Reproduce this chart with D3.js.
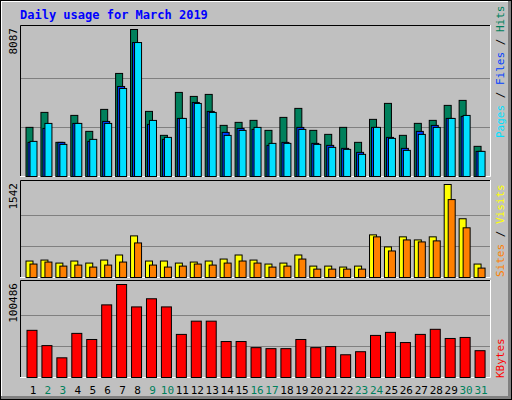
<!DOCTYPE html>
<html><head><meta charset="utf-8">
<script src="https://cdn.jsdelivr.net/npm/d3@7"></script>
<style>body{margin:0;background:#fff}svg{display:block}</style>
</head><body><svg id="c" width="512" height="400"></svg>
<script>
const days=d3.range(1,32);
const weekend=[2,3,9,10,16,17,23,24,30,31];
const hits=[2703,3527,1879,3362,2483,3692,5670,8087,3582,2264,4626,4406,4516,2813,2978,3088,2538,3252,3747,2538,2318,2703,1879,3143,4022,2264,2923,3088,3912,4187,1659];
const files=[1877,2646,1877,2920,1932,3030,4953,7370,2866,2042,3195,4074,3580,2426,2646,2591,1712,1877,2701,1822,1712,1547,1327,2701,2151,1547,2481,2811,3195,3305,1382];
const pages=[1932,2920,1767,2920,2042,2920,4843,7370,3085,2151,3195,4019,3525,2261,2536,2701,1822,1822,2591,1767,1602,1492,1218,2701,2097,1437,2316,2701,3195,3360,1382];
const sites=[273,289,239,273,239,289,373,690,273,273,239,256,273,306,373,289,223,239,373,189,189,173,189,707,507,674,623,674,1542,974,223];
const visits=[223,256,189,206,173,206,256,573,206,173,189,223,206,239,273,239,173,189,306,139,139,139,139,674,440,623,590,607,1292,824,156];
const kbytes=[50973,34470,21269,47671,41070,78474,100486,76274,85074,76274,46571,60872,60872,38870,38870,32270,31170,31170,41070,32270,33370,24569,27869,45471,48771,37770,46571,52071,42170,43271,28969];
const maxHits=8087, maxSites=1542, maxKB=100486;

const svg=d3.select("#c");
const F="'DejaVu Sans Mono', monospace";
svg.append("rect").attr("x",0).attr("y",0).attr("width",512).attr("height",400).attr("fill","#000");
svg.append("rect").attr("x",1).attr("y",1).attr("width",510).attr("height",398).attr("fill","#808080");
svg.append("rect").attr("x",1).attr("y",1).attr("width",507).attr("height",395).attr("fill","#fff");
svg.append("rect").attr("x",2).attr("y",2).attr("width",506).attr("height",394).attr("fill","#C0C0C0");

svg.append("text").attr("x",20).attr("y",19).attr("font-family",F).attr("font-weight","bold").attr("font-size",12).attr("fill","#0000FF").text("Daily usage for March 2019");

const x=d3.scaleBand().domain(days).range([25.5,488.5]).padding(0);
const L=20,R=491;
function panel(top,bot,max,label){
  svg.append("rect").attr("x",L).attr("y",top).attr("width",R-L).attr("height",bot-top).attr("fill","#C0C0C0");
  const y=d3.scaleLinear().domain([0,max]).range([bot-1,top+4]);
  [1/3,2/3].forEach(f=>{const yy=Math.round(y(max*f))+0.5;
    svg.append("line").attr("x1",L).attr("x2",R).attr("y1",yy).attr("y2",yy).attr("stroke","#808080").attr("stroke-width",1);});
  svg.append("path").attr("d",`M${L+0.5},${bot}V${top+0.5}H${R}`).attr("stroke","#000").attr("fill","none");
  svg.append("path").attr("d",`M${L},${bot-0.5}H${R-0.5}V${top}`).attr("stroke","#fff").attr("fill","none");
  svg.append("text").attr("transform",`translate(17,${top+3}) rotate(-90)`).attr("text-anchor","end")
    .attr("font-family",F).attr("font-size",11).attr("fill","#000").text(label);
  return y;
}
function bars(y,data,color,off,w){
  svg.append("g").selectAll("rect").data(data).join("rect")
   .attr("x",(d,i)=>x(days[i])+off+0.5).attr("y",d=>y(d)+0.5)
   .attr("width",w).attr("height",d=>y(0)-y(d))
   .attr("fill",color).attr("stroke","#000").attr("stroke-width",1);
}
const y1=panel(25,177,maxHits,"8087");
bars(y1,hits,"#00805C",0,7);
bars(y1,files,"#0040FF",2,7);
bars(y1,pages,"#00E0FF",4,7);
const y2=panel(180,278,maxSites,"1542");
bars(y2,sites,"#FFFF00",0,7);
bars(y2,visits,"#FF8000",4,7);
const y3=panel(280,378,maxKB,"100486");
bars(y3,kbytes,"#FF0000",1,10);

svg.append("g").selectAll("text").data(days).join("text")
  .attr("x",d=>x(d)+7.5).attr("y",394).attr("text-anchor","middle")
  .attr("font-family",F).attr("font-size",11)
  .attr("fill",d=>weekend.includes(d)?"#00805C":"#000").text(d=>d);

function rlabel(yBottom,parts){
  const t=svg.append("text").attr("transform",`translate(504,${yBottom}) rotate(-90)`)
    .attr("font-family",F).attr("font-size",11);
  parts.forEach(p=>t.append("tspan").attr("fill",p[1]).text(p[0]));
}
rlabel(138,[["Pages","#00E0FF"],[" / ","#000"],["Files","#0040FF"],[" / ","#000"],["Hits","#00805C"]]);
rlabel(277,[["Sites","#FF8000"],[" / ","#000"],["Visits","#FFFF00"]]);
rlabel(378,[["KBytes","#FF0000"]]);
</script></body></html>
